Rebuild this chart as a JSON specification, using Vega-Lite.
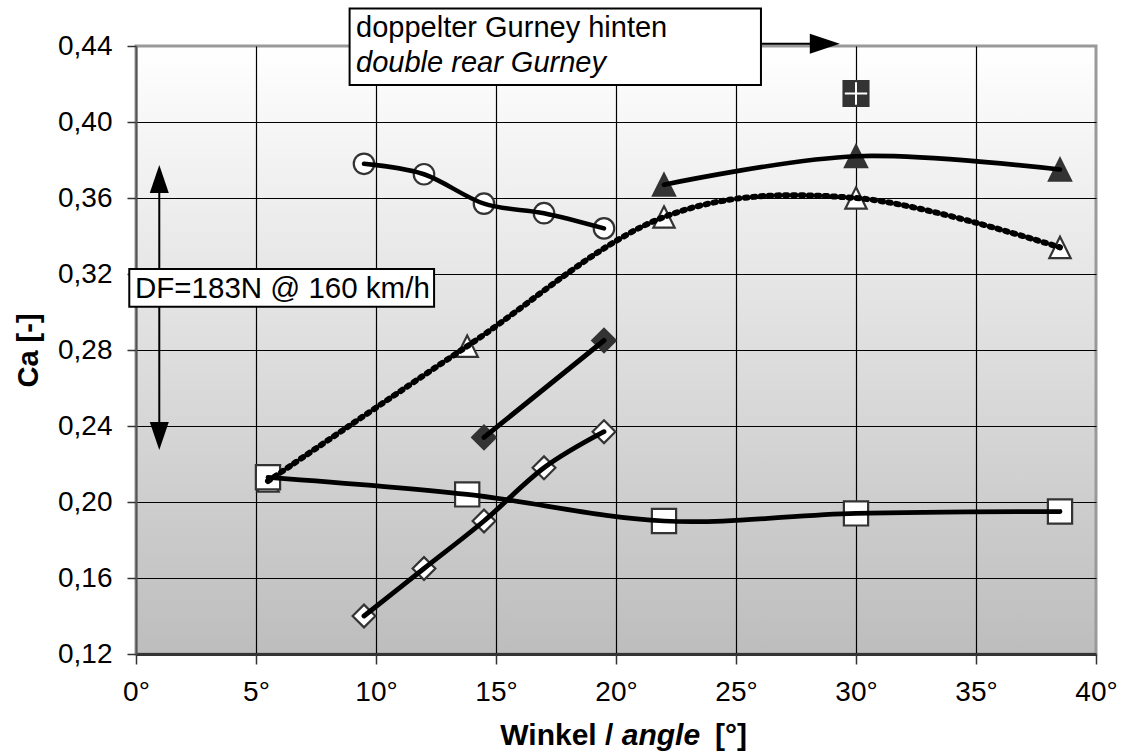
{
  "$schema": "https://vega.github.io/schema/vega-lite/v6.json",
  "width": 960,
  "height": 608,
  "autosize": {"type": "none"},
  "padding": {"left": 136, "top": 46, "right": 29, "bottom": 99},
  "background": "white",
  "config": {
    "font": "Liberation Sans",
    "view": {
      "fill": {"gradient": "linear", "x1": 0, "y1": 0, "x2": 0, "y2": 1,
        "stops": [{"offset": 0, "color": "#ffffff"}, {"offset": 1, "color": "#bdbdbd"}]},
      "stroke": "#999999",
      "strokeWidth": 3
    }
  },
  "datasets": {
    "pts": [
      {"s": "circle", "x": 9.5, "y": 0.378},
      {"s": "circle", "x": 12, "y": 0.3725},
      {"s": "circle", "x": 14.5, "y": 0.357},
      {"s": "circle", "x": 17, "y": 0.352},
      {"s": "circle", "x": 19.5, "y": 0.344},
      {"s": "tri_filled", "x": 22, "y": 0.367},
      {"s": "tri_filled", "x": 30, "y": 0.382},
      {"s": "tri_filled", "x": 38.5, "y": 0.375},
      {"s": "tri_open", "x": 5.5, "y": 0.211},
      {"s": "tri_open", "x": 13.8, "y": 0.282},
      {"s": "tri_open", "x": 22, "y": 0.35},
      {"s": "tri_open", "x": 30, "y": 0.36},
      {"s": "tri_open", "x": 38.5, "y": 0.334},
      {"s": "dia_filled", "x": 14.5, "y": 0.234},
      {"s": "dia_filled", "x": 19.5, "y": 0.285},
      {"s": "dia_open", "x": 9.5, "y": 0.14},
      {"s": "dia_open", "x": 12, "y": 0.165},
      {"s": "dia_open", "x": 14.5, "y": 0.19},
      {"s": "dia_open", "x": 17, "y": 0.218},
      {"s": "dia_open", "x": 19.5, "y": 0.237},
      {"s": "square", "x": 5.5, "y": 0.213},
      {"s": "square", "x": 13.8, "y": 0.204},
      {"s": "square", "x": 22, "y": 0.19},
      {"s": "square", "x": 30, "y": 0.194},
      {"s": "square", "x": 38.5, "y": 0.195},
      {"s": "special", "x": 30, "y": 0.415}
    ]
  },
  "layer": [
    {
      "data": {"name": "pts"},
      "mark": {"type": "point", "filled": true, "stroke": "#333333", "strokeWidth": 2.2, "opacity": 1},
      "encoding": {
        "x": {"field": "x", "type": "quantitative",
          "scale": {"domain": [0, 40], "nice": false, "zero": false},
          "axis": {"values": [0, 5, 10, 15, 20, 25, 30, 35, 40], "title": null,
            "labelExpr": "datum.value + '°'", "grid": true, "gridWidth": 1.2, "gridOpacity": 1,
            "gridColor": {"condition": {"test": "datum.value > 0.5 && datum.value < 39.5", "value": "#000000"}, "value": "transparent"},
            "domainColor": "#333333", "domainWidth": 3, "tickColor": "#333333", "tickSize": 10, "tickWidth": 1.5,
            "labelFontSize": 28, "labelColor": "#000000", "labelPadding": 14, "labelFlush": false, "labelOverlap": false}},
        "y": {"field": "y", "type": "quantitative",
          "scale": {"domain": [0.12, 0.44], "nice": false, "zero": false},
          "axis": {"values": [0.12, 0.14, 0.16, 0.18, 0.2, 0.22, 0.24, 0.26, 0.28, 0.3, 0.32, 0.34, 0.36, 0.38, 0.4, 0.42, 0.44],
            "title": "Ca [-]", "titleFontSize": 29, "titleFontWeight": "bold", "titleColor": "#000000", "titlePadding": 14,
            "labelExpr": "round(datum.value*100)%4==0 ? replace(format(datum.value,'.2f'),'.',',') : ''",
            "grid": true, "gridWidth": 1.2, "gridOpacity": 1,
            "gridColor": {"condition": {"test": "datum.value > 0.125 && datum.value < 0.435", "value": "#000000"}, "value": "transparent"},
            "tickOpacity": {"condition": {"test": "round(datum.value*100)%4==0", "value": 1}, "value": 0},
            "tickColor": "#333333", "tickSize": 9, "tickWidth": 1.5,
            "domainColor": "#555555", "domainWidth": 2,
            "labelFontSize": 28, "labelColor": "#000000", "labelPadding": 15, "labelOverlap": false}},
        "shape": {"field": "s", "type": "nominal", "legend": null,
          "scale": {"domain": ["circle", "tri_open", "tri_filled", "dia_open", "dia_filled", "square", "special"],
            "range": ["circle", "M0,-1L1,1L-1,1Z", "M0,-1L1,1L-1,1Z", "diamond", "diamond", "square", "square"]}},
        "fill": {"field": "s", "type": "nominal", "legend": null,
          "scale": {"domain": ["circle", "tri_open", "tri_filled", "dia_open", "dia_filled", "square", "special"],
            "range": ["#ffffff", "#ffffff", "#333333", "#ffffff", "#333333", "#ffffff", "#333333"]}},
        "size": {"field": "s", "type": "nominal", "legend": null,
          "scale": {"domain": ["circle", "tri_open", "tri_filled", "dia_open", "dia_filled", "square", "special"],
            "range": [420, 620, 580, 640, 560, 500, 420]}}
      }
    },
    {
      "data": {"name": "pts"},
      "transform": [{"filter": "datum.s == 'special'"}],
      "mark": {"type": "point", "shape": "M-1,0L1,0M0,-1L0,1", "filled": false, "stroke": "#ffffff", "strokeWidth": 2, "size": 500, "opacity": 1},
      "encoding": {
        "x": {"field": "x", "type": "quantitative"},
        "y": {"field": "y", "type": "quantitative"}
      }
    },
    {
      "data": {"name": "pts"},
      "transform": [{"filter": "indexof(['circle','tri_filled','square','dia_open','dia_filled'], datum.s) >= 0"}],
      "mark": {"type": "line", "interpolate": "cardinal", "color": "#000000", "strokeCap": "round"},
      "encoding": {
        "x": {"field": "x", "type": "quantitative"},
        "y": {"field": "y", "type": "quantitative"},
        "detail": {"field": "s", "type": "nominal"},
        "strokeWidth": {"field": "s", "type": "nominal", "legend": null,
          "scale": {"domain": ["circle", "tri_filled", "square", "dia_open", "dia_filled"], "range": [4.5, 5, 4.5, 3.8, 3.8]}}
      }
    },
    {
      "data": {"name": "pts"},
      "transform": [{"filter": "datum.s == 'tri_open'"}],
      "mark": {"type": "line", "interpolate": "cardinal", "color": "#000000", "strokeWidth": 6, "strokeDash": [2.5, 5.5], "strokeCap": "round"},
      "encoding": {
        "x": {"field": "x", "type": "quantitative"},
        "y": {"field": "y", "type": "quantitative"}
      }
    },
    {
      "data": {"values": [{}]},
      "mark": {"type": "rule", "color": "#000000", "strokeWidth": 2},
      "encoding": {
        "x": {"datum": 0.97, "type": "quantitative"},
        "y": {"datum": 0.37, "type": "quantitative"},
        "y2": {"datum": 0.2348}
      }
    },
    {
      "data": {"values": [{}]},
      "mark": {"type": "point", "shape": "M0,-1L0.68,1L-0.68,1Z", "filled": true, "color": "#000000", "size": 784, "opacity": 1},
      "encoding": {
        "x": {"datum": 0.97, "type": "quantitative"},
        "y": {"datum": 0.37, "type": "quantitative"}
      }
    },
    {
      "data": {"values": [{}]},
      "mark": {"type": "point", "shape": "M0,1L0.68,-1L-0.68,-1Z", "filled": true, "color": "#000000", "size": 784, "opacity": 1},
      "encoding": {
        "x": {"datum": 0.97, "type": "quantitative"},
        "y": {"datum": 0.2348, "type": "quantitative"}
      }
    },
    {
      "data": {"values": [{}]},
      "mark": {"type": "rule", "color": "#000000", "strokeWidth": 2},
      "encoding": {
        "x": {"datum": 26.04, "type": "quantitative"},
        "x2": {"datum": 28.7},
        "y": {"datum": 0.4412, "type": "quantitative"}
      }
    },
    {
      "data": {"values": [{}]},
      "mark": {"type": "point", "shape": "M1,0L-1,-0.67L-1,0.67Z", "filled": true, "color": "#000000", "size": 900, "opacity": 1},
      "encoding": {
        "x": {"datum": 28.7, "type": "quantitative"},
        "y": {"datum": 0.4412, "type": "quantitative"}
      }
    },
    {
      "data": {"values": [{}]},
      "mark": {"type": "rect", "fill": "#ffffff", "stroke": "#000000", "strokeWidth": 2},
      "encoding": {
        "x": {"datum": 8.9, "type": "quantitative"},
        "x2": {"datum": 26.04},
        "y": {"datum": 0.4598, "type": "quantitative"},
        "y2": {"datum": 0.4195}
      }
    },
    {
      "data": {"values": [{}]},
      "mark": {"type": "rect", "fill": "#ffffff", "stroke": "#000000", "strokeWidth": 2},
      "encoding": {
        "x": {"datum": -0.28, "type": "quantitative"},
        "x2": {"datum": 12.42},
        "y": {"datum": 0.3226, "type": "quantitative"},
        "y2": {"datum": 0.3028}
      }
    },
    {
      "data": {"values": [{"t": "doppelter Gurney hinten"}]},
      "mark": {"type": "text", "align": "left", "baseline": "alphabetic", "fontSize": 29, "color": "#000000"},
      "encoding": {
        "x": {"datum": 9.17, "type": "quantitative"},
        "y": {"datum": 0.4449, "type": "quantitative"},
        "text": {"field": "t"}
      }
    },
    {
      "data": {"values": [{"t": "double rear Gurney"}]},
      "mark": {"type": "text", "align": "left", "baseline": "alphabetic", "fontSize": 29, "fontStyle": "italic", "color": "#000000"},
      "encoding": {
        "x": {"datum": 9.17, "type": "quantitative"},
        "y": {"datum": 0.4265, "type": "quantitative"},
        "text": {"field": "t"}
      }
    },
    {
      "data": {"values": [{"t": "DF=183N @ 160 km/h"}]},
      "mark": {"type": "text", "align": "left", "baseline": "alphabetic", "fontSize": 29.5, "color": "#000000"},
      "encoding": {
        "x": {"datum": -0.04, "type": "quantitative"},
        "y": {"datum": 0.3072, "type": "quantitative"},
        "text": {"field": "t"}
      }
    },
    {
      "data": {"values": [{"t": "Winkel /"}]},
      "mark": {"type": "text", "align": "right", "baseline": "alphabetic", "fontSize": 30, "fontWeight": "bold", "color": "#000000"},
      "encoding": {
        "x": {"datum": 19.89, "type": "quantitative"},
        "y": {"datum": 0.0721, "type": "quantitative"},
        "text": {"field": "t"}
      }
    },
    {
      "data": {"values": [{"t": "angle"}]},
      "mark": {"type": "text", "align": "left", "baseline": "alphabetic", "fontSize": 30, "fontWeight": "bold", "fontStyle": "italic", "color": "#000000"},
      "encoding": {
        "x": {"datum": 20.24, "type": "quantitative"},
        "y": {"datum": 0.0721, "type": "quantitative"},
        "text": {"field": "t"}
      }
    },
    {
      "data": {"values": [{"t": "[°]"}]},
      "mark": {"type": "text", "align": "left", "baseline": "alphabetic", "fontSize": 30, "fontWeight": "bold", "color": "#000000"},
      "encoding": {
        "x": {"datum": 24.13, "type": "quantitative"},
        "y": {"datum": 0.0721, "type": "quantitative"},
        "text": {"field": "t"}
      }
    }
  ]
}
